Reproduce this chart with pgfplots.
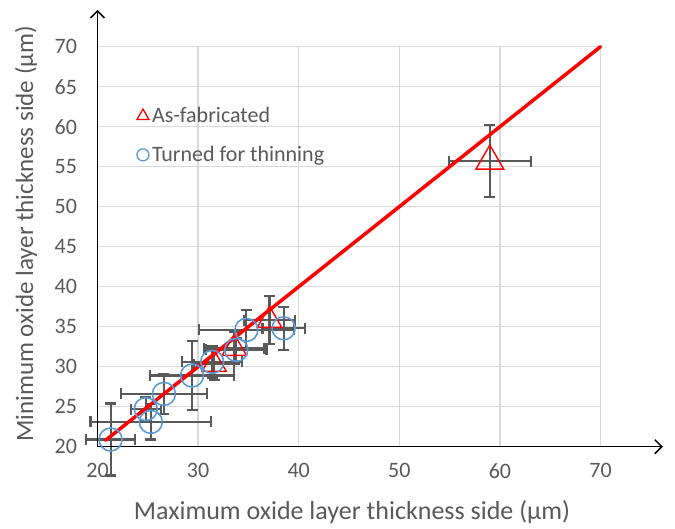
\documentclass[border=0pt]{standalone}
\usepackage{fontspec}
\setmainfont{Carlito}
\usepackage{pgfplots}
\usepackage{pgfplotstable}
\pgfplotsset{compat=1.18}
\usetikzlibrary{arrows.meta}
\definecolor{txtgray}{HTML}{595959}
\definecolor{errgray}{HTML}{595959}
\definecolor{gridgray}{HTML}{D9D9D9}
\definecolor{cblue}{HTML}{5B9BD5}

\pgfplotstableread{
x y ex ey
31.6 30.3 2.0 2.0
33.6 32.3 3.0 2.0
37.1 35.8 2.5 3.0
}\asfabsmall
\pgfplotstableread{
x y ex ey
59.0 55.7 4.1 4.5
}\asfabbig
\pgfplotstableread{
x y ex ey
21.3 20.9 2.4 4.5
24.8 24.7 1.5 1.5
25.3 23.1 6.0 2.2
26.6 26.6 4.3 2.5
29.4 28.9 4.2 4.3
31.4 30.6 3.0 2.0
33.8 32.1 3.0 1.5
34.8 34.6 4.7 2.5
38.5 34.8 2.1 2.7
}\turned

\pgfplotsset{
  xerr/.style={forget plot, draw=none, mark=none,
    error bars/.cd, x dir=both, x explicit,
    error bar style={errgray, line width=2.1pt, solid},
    error mark=|, error mark options={errgray, line width=2.1pt, mark size=5.5pt}},
  yerr/.style={forget plot, draw=none, mark=none,
    error bars/.cd, y dir=both, y explicit,
    error bar style={errgray, line width=2.1pt, solid},
    error mark=|, error mark options={errgray, line width=2.1pt, mark size=5.5pt}},
}

\begin{document}
\begin{tikzpicture}
\useasboundingbox (-97.5pt,-81.3pt) rectangle (577.5pt,446.7pt);
\begin{axis}[
 at={(0,0)}, anchor=south west,
 scale only axis, width=503pt, height=400pt,
 xmin=20, xmax=70, ymin=20, ymax=70,
 xtick={20,30,...,70}, ytick={20,25,...,70},
 grid=major, major grid style={gridgray, line width=1.3pt},
 axis line style={draw=none},
 major tick length=0pt,
 clip=false,
 /pgf/number format/assume math mode=true,
 ticklabel style={font=\fontsize{22}{22}\selectfont, text=txtgray},
 xticklabel style={yshift=-13pt},
 yticklabel style={xshift=-17pt},
 xlabel={Maximum oxide layer thickness side (µm)},
 ylabel={Minimum oxide layer thickness side (µm)},
 xlabel style={font=\fontsize{26}{26}\selectfont, text=txtgray,
   at={(axis description cs:0.506,-0.1625)}, anchor=center},
 ylabel style={font=\fontsize{25}{25}\selectfont, text=txtgray,
   at={(axis description cs:-0.142,0.532)}, anchor=center},
 legend style={draw=none, fill=none, at={(axis cs:23.6,62.9)}, anchor=north west,
   font=\fontsize{22}{22}\selectfont, text=txtgray, row sep=18pt,
   nodes={inner xsep=3pt}},
 legend cell align=left,
]
\addlegendimage{only marks, mark=triangle, mark size=7pt, mark options={red, line width=1.3pt, fill=none}}
\addlegendentry{As-fabricated}
\addlegendimage{only marks, mark=o, mark size=6pt, mark options={cblue, line width=1.3pt, fill=none}}
\addlegendentry{Turned for thinning}

\addplot[xerr] table[x=x, y=y, x error=ex] {\asfabsmall};
\addplot[yerr] table[x=x, y=y, y error=ey] {\asfabsmall};
\addplot[xerr] table[x=x, y=y, x error=ex] {\asfabbig};
\addplot[yerr] table[x=x, y=y, y error=ey] {\asfabbig};
\addplot[xerr] table[x=x, y=y, x error=ex] {\turned};
\addplot[yerr] table[x=x, y=y, y error=ey] {\turned};

\addplot[forget plot, only marks, mark=triangle, mark size=14pt,
  mark options={red, line width=1.4pt, fill=none}]
  table[x=x, y=y] {\asfabsmall};
\addplot[forget plot, only marks, mark=triangle, mark size=16pt,
  mark options={red, line width=1.4pt, fill=none}]
  table[x=x, y=y] {\asfabbig};
\addplot[forget plot, only marks, mark=o, mark size=11.5pt,
  mark options={cblue, line width=1.6pt, fill=none}]
  table[x=x, y=y] {\turned};
\addplot[forget plot, red, line width=3.5pt, line cap=round] coordinates {(20.8,20.8) (70,70)};

\draw[black, line width=1.5pt, -{Straight Barb[length=7pt,width=14pt]}] (axis cs:20,20) -- (axis cs:76.2,20);
\draw[black, line width=1.5pt, -{Straight Barb[length=7pt,width=14pt]}] (axis cs:20,20) -- (axis cs:20,74.6);
\end{axis}
\end{tikzpicture}
\end{document}
